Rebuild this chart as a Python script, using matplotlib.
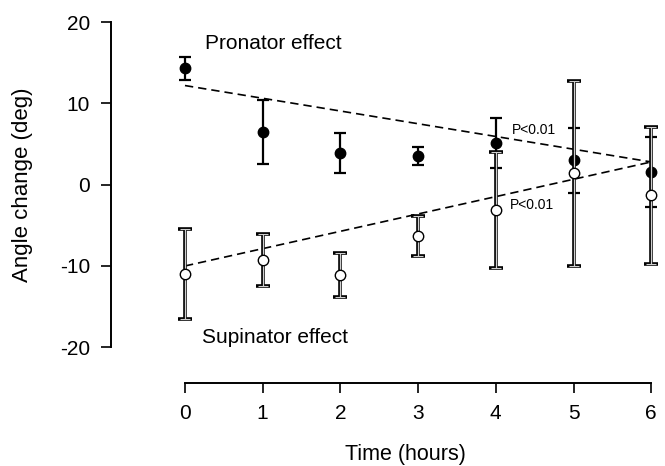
import matplotlib
matplotlib.use("Agg")
import matplotlib.pyplot as plt

plt.rcParams['font.family'] = ['Liberation Sans', 'DejaVu Sans']
plt.rcParams['axes.unicode_minus'] = False

# data
hours = [0, 1, 2, 3, 4, 5, 6]
pronator = [14.3, 6.5, 3.9, 3.5, 5.1, 3.0, 1.6]
pronator_err = [1.4, 3.9, 2.4, 1.1, 3.1, 4.0, 4.3]
supinator = [-11.0, -9.3, -11.1, -6.3, -3.1, 1.4, -1.3]
supinator_err = [5.5, 3.2, 2.7, 2.45, 7.1, 11.4, 8.45]

trend_x = [0, 6]
pronator_trend = [12.2, 2.8]
supinator_trend = [-10.0, 2.8]

fig = plt.figure(figsize=(6.65, 4.66), dpi=100)
ax = fig.add_axes([0.1669, 0.1781, 0.8256, 0.7918])
ax.set_xlim(-0.952, 6.113)
ax.set_ylim(-24.4, 21.0)

# regression lines
ax.plot(trend_x, pronator_trend, color='black', lw=1.2, ls=(0, (5, 3)), zorder=1)
ax.plot(trend_x, supinator_trend, color='black', lw=1.2, ls=(0, (5, 3)), zorder=1)

# pronator: solid bars, filled dots
ax.errorbar(hours, pronator, yerr=pronator_err, fmt='o', color='black',
            ms=7.5, elinewidth=1.6, capsize=4.3, capthick=1.6, zorder=2)

# supinator: hollow-looking bars, open dots
ax.errorbar(hours, supinator, yerr=supinator_err, fmt='none', ecolor='black',
            elinewidth=2.6, capsize=4.8, capthick=2.6, zorder=3)
ax.errorbar(hours, supinator, yerr=supinator_err, fmt='none', ecolor='#cfcfcf',
            elinewidth=0.9, capsize=3.8, capthick=0.8, zorder=4)
ax.plot(hours, supinator, 'o', ms=7.5, mfc='white', mec='black', mew=1.0, zorder=5)

ax.text(0.26, 17.4, 'Pronator effect', fontsize=15, va='center', ha='left')
ax.text(0.22, -18.8, 'Supinator effect', fontsize=15, va='center', ha='left')
ax.text(4.21, 6.7, 'P<0.01', fontsize=10, va='center', ha='left')
ax.text(4.18, -2.5, 'P<0.01', fontsize=10, va='center', ha='left')

# detached axes
for side in ['top', 'right']:
    ax.spines[side].set_visible(False)
ax.spines['left'].set_bounds(-20, 20)
ax.spines['bottom'].set_bounds(0, 6)
ax.spines['left'].set_linewidth(1.4)
ax.spines['bottom'].set_linewidth(1.4)

ax.set_yticks([-20, -10, 0, 10, 20])
ax.set_xticks(hours)
ax.tick_params(direction='out', length=7, width=1.2, pad=8, labelsize=15)

ax.set_ylabel('Angle change (deg)', fontsize=16)
ax.yaxis.set_label_coords(-0.142, 0, transform=ax.get_yaxis_transform())
ax.set_xlabel('Time (hours)', fontsize=15.5)
ax.xaxis.set_label_coords(2.84, -0.164, transform=ax.get_xaxis_transform())

fig.savefig('out.png', dpi=100)
